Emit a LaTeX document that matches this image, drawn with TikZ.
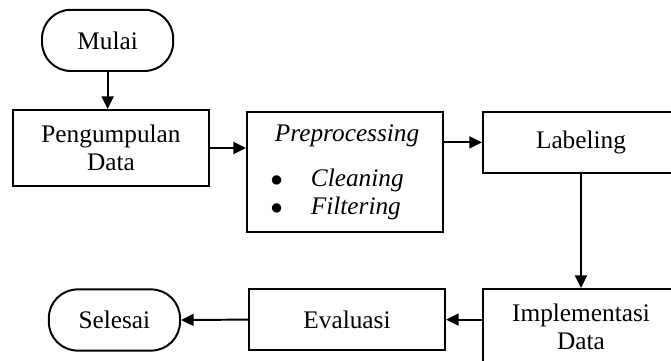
\documentclass[tikz,border=0pt]{standalone}
\usepackage{fontspec}
\setmainfont{Liberation Serif}
\usetikzlibrary{arrows.meta}
\tikzset{
  proses/.style={draw,line width=1.4pt,minimum width=4.9cm,align=center,inner sep=2pt},
  terminal/.style={draw,line width=1.4pt,rounded corners=0.72cm,minimum width=3.28cm,minimum height=1.53cm},
  panah/.style={line width=1.4pt,-{Triangle[length=9pt,width=8.5pt]}}
}
\begin{document}
\begin{tikzpicture}[font=\fontsize{18}{19.5}\selectfont]
\useasboundingbox (0,0) rectangle (16.775,9);
\clip (0,0) rectangle (16.775,9);
\node[terminal] (mulai) at (2.69,7.99) {Mulai};
\node[proses,minimum height=1.9cm] (kumpul) at (2.775,5.3) {Pengumpulan\\Data};
\node[proses,minimum height=3cm,align=left] (prepro) at (8.625,4.7) {\hspace{3pt}\textit{Preprocessing}\\[0.45cm]$\bullet$\hspace{0.7cm}\textit{Cleaning}\\$\bullet$\hspace{0.7cm}\textit{Filtering}};
\node[proses,minimum height=1.53cm] (label) at (14.525,5.44) {Labeling};
\node[proses,minimum height=1.9cm] (impl) at (14.525,0.825) {Implementasi\\Data};
\node[proses,minimum height=1.53cm] (eval) at (8.675,1.01) {Evaluasi};
\node[terminal] (selesai) at (2.86,1.0) {Selesai};
\draw[panah] (mulai.south) -- (mulai.south |- kumpul.north);
\draw[panah] (kumpul.east) -- (kumpul.east -| prepro.west);
\draw[panah] (prepro.east |- label.west) -- (label.west);
\draw[panah] (label.south) -- (impl.north);
\draw[panah] (eval.east -| impl.west) -- (eval.east);
\draw[panah] (eval.west) -- (selesai.east);
\end{tikzpicture}
\end{document}
